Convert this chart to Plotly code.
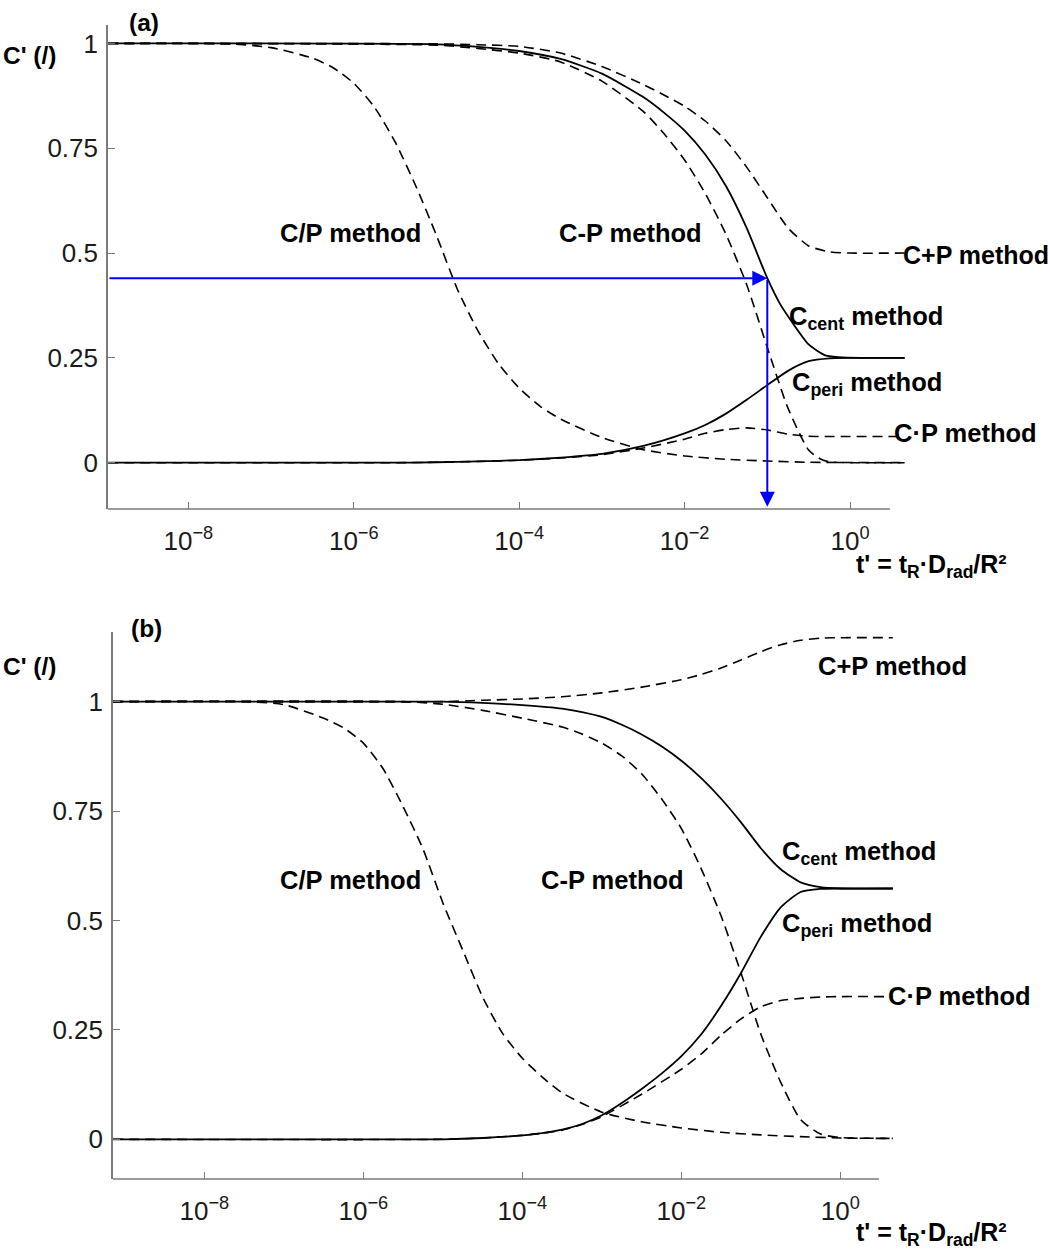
import numpy as np
import plotly.graph_objects as go

# ---------------- data (log10 t', C') ----------------
# panel (a)
a_cdivp_logt = [-8.97, -7.5, -7.0, -6.5, -6.25, -6.0, -5.75, -5.5, -5.25, -5.0, -4.75, -4.5, -4.25, -4.0, -3.75, -3.5, -3.0, -2.5, -2.0, -1.5, -1.0, -0.5, 0.66]
a_cdivp = [1.0, 0.999, 0.99, 0.965, 0.942, 0.905, 0.848, 0.765, 0.66, 0.542, 0.415, 0.315, 0.236, 0.178, 0.135, 0.104, 0.06, 0.031, 0.016, 0.008, 0.004, 0.001, 0.0]

a_cent_logt = [-8.97, -5.0, -4.5, -4.0, -3.5, -3.0, -2.5, -2.25, -2.0, -1.75, -1.5, -1.25, -1.0, -0.85, -0.7, -0.5, -0.3, -0.1, 0.66]
a_cent = [1.0, 0.998, 0.992, 0.982, 0.963, 0.928, 0.872, 0.835, 0.792, 0.735, 0.66, 0.56, 0.44, 0.38, 0.335, 0.282, 0.256, 0.251, 0.25]

a_cminp_logt = [-8.97, -5.0, -4.5, -4.0, -3.5, -3.0, -2.5, -2.25, -2.0, -1.75, -1.5, -1.25, -1.0, -0.75, -0.5, -0.35, -0.25, 0.0, 0.66]
a_cminp = [1.0, 0.996, 0.988, 0.977, 0.956, 0.91, 0.838, 0.785, 0.722, 0.642, 0.545, 0.425, 0.275, 0.13, 0.03, 0.008, 0.002, 0.0, 0.0]

a_cplusp_logt = [-8.97, -5.0, -4.5, -4.0, -3.5, -3.0, -2.5, -2.25, -2.0, -1.75, -1.5, -1.25, -1.0, -0.75, -0.5, -0.25, 0.0, 0.66]
a_cplusp = [1.0, 0.999, 0.997, 0.993, 0.977, 0.945, 0.902, 0.877, 0.85, 0.815, 0.768, 0.705, 0.632, 0.56, 0.517, 0.503, 0.5, 0.5]

a_peri_logt = [-8.97, -5.5, -5.0, -4.5, -4.0, -3.5, -3.0, -2.5, -2.0, -1.75, -1.5, -1.25, -1.0, -0.75, -0.5, -0.25, 0.0, 0.66]
a_peri = [0.0, 0.0, 0.001, 0.003, 0.006, 0.012, 0.021, 0.04, 0.07, 0.09, 0.117, 0.15, 0.185, 0.219, 0.242, 0.249, 0.25, 0.25]

a_ctimesp_logt = [-8.97, -5.5, -5.0, -4.5, -4.0, -3.5, -3.0, -2.5, -2.0, -1.75, -1.5, -1.25, -1.0, -0.75, -0.5, -0.25, 0.0, 0.66]
a_ctimesp = [0.0, 0.0, 0.001, 0.003, 0.006, 0.011, 0.019, 0.035, 0.056, 0.07, 0.079, 0.083, 0.078, 0.068, 0.063, 0.0625, 0.0625, 0.0625]

# arrow marking t' = 0.1 in panel (a)
arrow_t = 0.1
arrow_c = 0.44
arrow_c_end = -0.105

# panel (b)
b_cdivp_logt = [-9.15, -7.5, -7.0, -6.5, -6.25, -6.0, -5.75, -5.5, -5.25, -5.0, -4.75, -4.5, -4.25, -4.0, -3.75, -3.5, -3.0, -2.5, -2.0, -1.5, -1.0, -0.5, 0.0, 0.66]
b_cdivp = [1.0, 1.0, 0.993, 0.962, 0.94, 0.905, 0.846, 0.76, 0.663, 0.54, 0.432, 0.325, 0.242, 0.185, 0.142, 0.106, 0.062, 0.04, 0.026, 0.016, 0.01, 0.006, 0.003, 0.002]

b_cent_logt = [-9.15, -5.0, -4.5, -4.0, -3.5, -3.25, -3.0, -2.75, -2.5, -2.25, -2.0, -1.75, -1.5, -1.25, -1.0, -0.75, -0.5, -0.25, 0.0, 0.66]
b_cent = [1.0, 1.0, 0.997, 0.992, 0.984, 0.976, 0.965, 0.947, 0.925, 0.898, 0.865, 0.825, 0.778, 0.724, 0.665, 0.617, 0.587, 0.576, 0.573, 0.573]

b_cminp_logt = [-9.15, -5.5, -5.0, -4.5, -4.0, -3.5, -3.25, -3.0, -2.75, -2.5, -2.25, -2.0, -1.75, -1.5, -1.25, -1.0, -0.75, -0.5, -0.25, 0.0, 0.66]
b_cminp = [1.0, 1.0, 0.994, 0.98, 0.962, 0.942, 0.926, 0.905, 0.876, 0.835, 0.778, 0.71, 0.618, 0.51, 0.38, 0.24, 0.13, 0.045, 0.012, 0.004, 0.002]

b_cplusp_logt = [-9.15, -5.0, -4.5, -4.0, -3.5, -3.0, -2.5, -2.0, -1.75, -1.5, -1.25, -1.0, -0.75, -0.5, -0.25, 0.0, 0.66]
b_cplusp = [1.0, 1.0, 1.003, 1.006, 1.011, 1.02, 1.033, 1.05, 1.062, 1.077, 1.095, 1.114, 1.13, 1.14, 1.145, 1.146, 1.146]

b_peri_logt = [-9.15, -5.0, -4.5, -4.0, -3.75, -3.5, -3.25, -3.0, -2.75, -2.5, -2.25, -2.0, -1.75, -1.5, -1.25, -1.0, -0.75, -0.5, -0.25, 0.0, 0.66]
b_peri = [0.0, 0.0, 0.003, 0.009, 0.014, 0.022, 0.035, 0.055, 0.083, 0.115, 0.15, 0.19, 0.24, 0.305, 0.38, 0.463, 0.53, 0.565, 0.572, 0.573, 0.573]

b_ctimesp_logt = [-9.15, -5.0, -4.5, -4.0, -3.75, -3.5, -3.25, -3.0, -2.5, -2.0, -1.75, -1.5, -1.25, -1.0, -0.75, -0.5, -0.25, 0.0, 0.66]
b_ctimesp = [0.0, 0.0, 0.003, 0.009, 0.014, 0.021, 0.034, 0.052, 0.103, 0.16, 0.195, 0.238, 0.275, 0.303, 0.317, 0.322, 0.325, 0.326, 0.326]

tick_vals = [1e-8, 1e-6, 1e-4, 1e-2, 1e0]
tick_text = ["10<sup>\u22128</sup>", "10<sup>\u22126</sup>", "10<sup>\u22124</sup>", "10<sup>\u22122</sup>", "10<sup>0</sup>"]
ytick_vals = [0, 0.25, 0.5, 0.75, 1]
ytick_text = ["0", "0.25", "0.5", "0.75", "1"]

# ---------------- figure ----------------
W, H = 1050, 1253
AX_COL = "#7a7a7a"
TXT_COL = "#1a1a1a"
BOLD_FONT = "Liberation Sans, Arial"
REG_FONT = "Liberation Sans, Arial"
DASH = "10px,6px"

fig = go.Figure()

def add_line(logt, vals, xa, ya, dashed):
    fig.add_trace(go.Scatter(
        x=10 ** np.array(logt), y=vals, mode="lines", xaxis=xa, yaxis=ya,
        line=dict(color="black", width=1.6 if dashed else 1.8,
                  dash=DASH if dashed else "solid",
                  shape="spline", smoothing=0.6),
        hoverinfo="skip", showlegend=False))

for lt, v, d in [(a_cdivp_logt, a_cdivp, True), (a_cminp_logt, a_cminp, True),
                 (a_cplusp_logt, a_cplusp, True), (a_ctimesp_logt, a_ctimesp, True),
                 (a_cent_logt, a_cent, False), (a_peri_logt, a_peri, False)]:
    add_line(lt, v, "x", "y", d)

for lt, v, d in [(b_cdivp_logt, b_cdivp, True), (b_cminp_logt, b_cminp, True),
                 (b_cplusp_logt, b_cplusp, True), (b_ctimesp_logt, b_ctimesp, True),
                 (b_cent_logt, b_cent, False), (b_peri_logt, b_peri, False)]:
    add_line(lt, v, "x2", "y2", d)

def px_dom(p0, p1):
    return [p0 / W, p1 / W]

def py_dom(top, bottom):
    return [1 - bottom / H, 1 - top / H]

xa_common = dict(type="log", tickvals=tick_vals, ticktext=tick_text, ticks="inside",
                 ticklen=7, tickwidth=1.3, tickcolor=AX_COL, showline=False,
                 showgrid=False, zeroline=False, automargin=False,
                 tickfont=dict(family=REG_FONT, size=26, color=TXT_COL),
                 ticklabelstandoff=14)
ya_common = dict(tickvals=ytick_vals, ticktext=ytick_text, ticks="inside",
                 ticklen=7, tickwidth=1.3, tickcolor=AX_COL, showline=True,
                 linecolor=AX_COL, linewidth=1.6, showgrid=False, zeroline=False,
                 automargin=False,
                 tickfont=dict(family=REG_FONT, size=26, color=TXT_COL),
                 ticklabelstandoff=3)

a_xrange = [-8.972, 0.665]
b_xrange = [-9.15, 0.662]

fig.update_layout(
    width=W, height=H, margin=dict(l=0, r=0, t=0, b=0),
    paper_bgcolor="white", plot_bgcolor="white", showlegend=False,
    xaxis=dict(domain=px_dom(108, 905), range=a_xrange, anchor="y", **xa_common),
    yaxis=dict(domain=py_dom(25, 509), range=[-0.1105, 1.044], anchor="x", **ya_common),
    xaxis2=dict(domain=px_dom(113, 893), range=b_xrange, anchor="y2", **xa_common),
    yaxis2=dict(domain=py_dom(632, 1179), range=[-0.0907, 1.159], anchor="x2", **ya_common),
)

# bottom axis lines (shorter than the curves, as in the original)
fig.add_shape(type="line", xref="x domain", yref="y domain", x0=0, x1=0.981, y0=0, y1=0,
              line=dict(color=AX_COL, width=1.6))
fig.add_shape(type="line", xref="x2 domain", yref="y2 domain", x0=0, x1=0.982, y0=0, y1=0,
              line=dict(color=AX_COL, width=1.6))

def label(text, cx, cy, size=25.5):
    fig.add_annotation(text="<b>" + text + "</b>", x=cx / W, y=1 - cy / H,
                       xref="paper", yref="paper", xanchor="center", yanchor="middle",
                       showarrow=False, font=dict(family=BOLD_FONT, size=size, color="black"))

# panel (a) texts
label("(a)", 144, 22, 24.5)
label("C' (/)", 29, 56, 24.5)
label("C/P method", 350, 233)
label("C-P method", 630, 233)
label("C+P method", 976, 255, 25)
label("C<sub>cent</sub> method", 866, 318)
label("C<sub>peri</sub> method", 867, 384)
label("C\u00b7P method", 965, 433)
label("t' = t<sub>R</sub>\u00b7D<sub>rad</sub>/R\u00b2", 931, 566, 25)

# panel (b) texts
label("(b)", 146, 628, 24.5)
label("C' (/)", 29, 667, 24.5)
label("C/P method", 350, 880)
label("C-P method", 612, 880)
label("C+P method", 892, 666)
label("C<sub>cent</sub> method", 859, 853)
label("C<sub>peri</sub> method", 857, 925)
label("C\u00b7P method", 959, 996)
label("t' = t<sub>R</sub>\u00b7D<sub>rad</sub>/R\u00b2", 931, 1234, 25)

# blue arrows in panel (a)
fig.add_annotation(x=np.log10(arrow_t), y=arrow_c, ax=a_xrange[0], ay=arrow_c,
                   xref="x", yref="y", axref="x", ayref="y", text="", showarrow=True,
                   arrowhead=2, arrowsize=1.5, arrowwidth=2, arrowcolor="#0000ff", standoff=0)
fig.add_annotation(x=np.log10(arrow_t), y=arrow_c_end, ax=np.log10(arrow_t), ay=arrow_c,
                   xref="x", yref="y", axref="x", ayref="y", text="", showarrow=True,
                   arrowhead=2, arrowsize=1.5, arrowwidth=2, arrowcolor="#0000ff", standoff=0)

fig.write_html("out.html")
